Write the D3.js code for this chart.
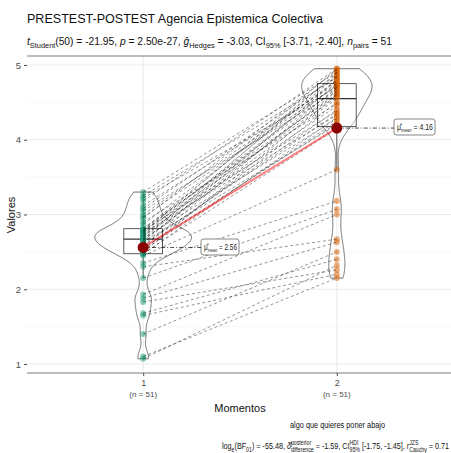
<!DOCTYPE html>
<html>
<head>
<meta charset="utf-8">
<script src="https://d3js.org/d3.v7.min.js"></script>
<style>
body{margin:0;background:#fff;}
text{font-family:"Liberation Sans",Arial,sans-serif;white-space:pre;}
</style>
</head>
<body>
<div class="chartContainer"></div>
<script>
// ---- data ----
var momentos=["1","2"];
var nLabels=["(n = 51)","(n = 51)"];
var yTicks=[1,2,3,4,5];
// paired scores, same index = same person
var pre=[1.07,1.10,1.40,1.65,1.68,1.83,1.88,1.93,2.15,2.30,2.35,2.45,
	2.47,2.48,2.50,2.52,2.53,2.55,2.57,2.58,2.60,2.62,2.63,2.65,2.66,2.67,
	2.68,2.70,2.71,2.72,2.73,2.75,2.76,2.77,2.78,2.79,2.80,2.80,
	2.82,2.87,2.90,2.95,2.97,3.00,3.05,3.08,3.12,3.18,3.22,3.25,3.30];
var post=[2.32,2.15,2.50,2.20,2.40,2.26,2.63,3.00,3.07,2.67,3.18,3.60,
	4.30,4.15,4.60,4.25,4.50,4.22,4.70,4.40,4.35,4.80,4.20,4.65,4.55,4.90,
	4.28,4.75,4.45,4.62,4.85,4.33,4.95,4.57,4.73,4.38,4.88,4.68,
	4.60,4.80,4.48,4.93,4.72,4.78,4.65,4.85,4.75,4.95,4.70,4.83,4.90];
var groupColors=["#1B9E77","#D95F02"];

var titleText="PRESTEST-POSTEST Agencia Epistemica Colectiva";
var subtitleParts=[
	{t:"t",i:1},{t:"Student",s:"sub"},{t:"(50) = -21.95, "},{t:"p",i:1},{t:" = 2.50e-27, "},
	{t:"\u011D",i:1},{t:"Hedges",s:"sub"},{t:" = -3.03, CI"},{t:"95%",s:"sub"},
	{t:" [-3.71, -2.40], "},{t:"n",i:1},{t:"pairs",s:"sub"},{t:" = 51"}];
var captionTop="algo que quieres poner abajo";
var captionParts=[
	{t:"log"},{t:"e",s:"sub"},{t:"(BF"},{t:"01",s:"sub"},{t:") = -55.48, "},
	{t:"\u03B4\u0302",i:1},{t:"posterior",s:"sup",pair:"difference"},{t:" = -1.59, CI"},
	{t:"HDI",s:"sup",pair:"95%"},{t:" [-1.75, -1.45], "},{t:"r",i:1},{t:"JZS",s:"sup",pair:"Cauchy"},{t:" = 0.71"}];

var W=451,H=453;
var svg=d3.select(".chartContainer").append("svg").attr("width",W).attr("height",H);

var x=d3.scalePoint().domain(momentos).range([27,453]).padding(0.6);
var y=d3.scaleLinear().domain([0.88,5.12]).range([373,56]);
var groups=[pre,post];

// rich text helper: lays segments one after another, optionally squeezed to a width
function rich(parent,x0,y0,parts,size,color,fitW,subK){
	var g=parent.append("g"), cx=x0, sk=subK||0.72;
	parts.forEach(function(p){
		var fs=p.s?size*sk:size, dy=p.s=="sub"?size*0.28:(p.s=="sup"?-size*0.42:0);
		var t=g.append("text").attr("x",cx).attr("y",y0+dy).attr("font-size",fs)
			.attr("fill",color).attr("font-style",p.i?"italic":null).text(p.t);
		var w=t.node().getComputedTextLength();
		if(p.pair){
			var t2=g.append("text").attr("x",cx).attr("y",y0+size*0.3).attr("font-size",fs)
				.attr("fill",color).text(p.pair);
			w=Math.max(w,t2.node().getComputedTextLength());
		}
		cx+=w;
	});
	if(fitW){
		var k=fitW/(cx-x0);
		g.attr("transform","translate("+x0+",0) scale("+k+",1) translate("+(-x0)+",0)");
		return x0+fitW;
	}
	return cx;
}

// grid
var grid=svg.append("g");
d3.range(1.5,5.01,1).forEach(function(v){
	grid.append("line").attr("x1",27).attr("x2",W).attr("y1",y(v)).attr("y2",y(v))
		.attr("stroke","#f2f2f2").attr("stroke-width",0.6);
});
grid.selectAll(".gy").data(yTicks).enter().append("line")
	.attr("x1",27).attr("x2",W).attr("y1",function(d){return y(d);}).attr("y2",function(d){return y(d);})
	.attr("stroke","#ebebeb").attr("stroke-width",1.1);
grid.selectAll(".gx").data(momentos).enter().append("line")
	.attr("x1",function(d){return x(d);}).attr("x2",function(d){return x(d);})
	.attr("y1",56).attr("y2",373).attr("stroke","#ebebeb").attr("stroke-width",1.1);

// panel top / bottom lines
svg.append("line").attr("x1",27).attr("x2",W).attr("y1",56).attr("y2",56).attr("stroke","#a6a6a6").attr("stroke-width",1.6);
svg.append("line").attr("x1",27).attr("x2",W).attr("y1",373).attr("y2",373).attr("stroke","#a6a6a6").attr("stroke-width",1.6);

// axes
var yAxis=svg.append("g").attr("transform","translate(27,0)")
	.call(d3.axisLeft(y).tickValues(yTicks).tickFormat(d3.format("d")).tickSize(3).tickPadding(3));
yAxis.select(".domain").remove();
yAxis.selectAll("line").attr("stroke","#4d4d4d");
yAxis.selectAll("text").attr("font-size",9.5).attr("fill","#4d4d4d").attr("font-family","Liberation Sans, Arial");
var xAxis=svg.append("g").attr("transform","translate(0,373)")
	.call(d3.axisBottom(x).tickSize(3).tickPadding(4));
xAxis.select(".domain").remove();
xAxis.selectAll("line").attr("stroke","#4d4d4d");
xAxis.selectAll("text").attr("font-size",9).attr("fill","#4d4d4d").attr("font-family","Liberation Sans, Arial");
svg.selectAll(".nlab").data(momentos).enter().append("text")
	.attr("x",function(d){return x(d);}).attr("y",397).attr("text-anchor","middle")
	.attr("font-size",8).attr("fill","#4d4d4d").text(function(d,i){return nLabels[i];});

// violins (gaussian kde, bw.nrd0, trimmed, equal area)
function nrd0(v){
	var s=d3.deviation(v), iqr=d3.quantile(v,0.75)-d3.quantile(v,0.25);
	return 0.9*Math.min(s,iqr/1.34)*Math.pow(v.length,-0.2);
}
var dens=groups.map(function(v){
	var s=v.slice().sort(d3.ascending), bw=nrd0(s), lo=s[0], hi=s[s.length-1];
	return d3.range(0,512).map(function(k){
		var t=lo+(hi-lo)*k/511;
		var d=d3.sum(s,function(u){var z=(t-u)/bw;return Math.exp(-0.5*z*z);})/(s.length*bw*Math.sqrt(2*Math.PI));
		return {v:t,d:d};
	});
});
var maxD=d3.max(dens,function(a){return d3.max(a,function(p){return p.d;});});
var half=0.25*x.step();
dens.forEach(function(a,i){
	var cx=x(momentos[i]);
	var area=d3.area().y(function(p){return y(p.v);})
		.x0(function(p){return cx-half*p.d/maxD;}).x1(function(p){return cx+half*p.d/maxD;});
	svg.append("path").datum(a).attr("d",area).attr("fill","#fff").attr("fill-opacity",0.2)
		.attr("stroke","#333").attr("stroke-width",0.7);
});

// boxplots
groups.forEach(function(v,i){
	var s=v.slice().sort(d3.ascending), cx=x(momentos[i]), bw=0.1*x.step();
	var q1=d3.quantile(s,0.25), q2=d3.quantile(s,0.5), q3=d3.quantile(s,0.75), r=1.5*(q3-q1);
	var lo=d3.min(s.filter(function(u){return u>=q1-r;})), hi=d3.max(s.filter(function(u){return u<=q3+r;}));
	var g=svg.append("g").attr("stroke","#333").attr("stroke-width",0.8);
	g.append("line").attr("x1",cx).attr("x2",cx).attr("y1",y(q3)).attr("y2",y(hi));
	g.append("line").attr("x1",cx).attr("x2",cx).attr("y1",y(q1)).attr("y2",y(lo));
	g.append("rect").attr("x",cx-bw).attr("width",2*bw).attr("y",y(q3)).attr("height",y(q1)-y(q3))
		.attr("fill","#fff").attr("fill-opacity",0.4);
	g.append("line").attr("x1",cx-bw).attr("x2",cx+bw).attr("y1",y(q2)).attr("y2",y(q2)).attr("stroke-width",1.3);
});

// points
groups.forEach(function(v,i){
	svg.append("g").selectAll("circle").data(v).enter().append("circle")
		.attr("cx",x(momentos[i])).attr("cy",function(d){return y(d);}).attr("r",3)
		.attr("fill",groupColors[i]).attr("fill-opacity",0.5);
});

// paired dashed lines
svg.append("g").selectAll("line").data(pre).enter().append("line")
	.attr("x1",x("1")).attr("x2",x("2"))
	.attr("y1",function(d){return y(d);}).attr("y2",function(d,i){return y(post[i]);})
	.attr("stroke","#000").attr("stroke-opacity",0.6).attr("stroke-width",0.7).attr("stroke-dasharray","3,2.5");

// centrality path and points
var means=groups.map(function(v){return d3.mean(v);});
svg.append("line").attr("x1",x("1")).attr("x2",x("2")).attr("y1",y(means[0])).attr("y2",y(means[1]))
	.attr("stroke","#ff0000").attr("stroke-opacity",0.5).attr("stroke-width",2);
var labelPos=[[201,239,38],[394,119,41]];
means.forEach(function(m,i){
	var cx=x(momentos[i]), cy=y(m), lp=labelPos[i];
	svg.append("line").attr("x1",cx).attr("x2",lp[0]).attr("y1",cy).attr("y2",cy)
		.attr("stroke","#000").attr("stroke-width",0.7).attr("stroke-dasharray","4,2,1,2");
	svg.append("circle").attr("cx",cx).attr("cy",cy).attr("r",5.5).attr("fill","#8B0000");
	var lg=svg.append("g");
	lg.append("rect").attr("x",lp[0]).attr("y",lp[1]).attr("height",16).attr("width",lp[2]).attr("rx",2.5)
		.attr("fill","#fff").attr("stroke","#333").attr("stroke-width",0.6);
	rich(lg,lp[0]+3,lp[1]+11,[{t:"\u03BC\u0302"},{t:"mean",s:"sub"},{t:" = "+d3.format(".2f")(m)}],8.5,"#222",lp[2]-5,0.6);
});

// titles
svg.append("text").attr("x",27).attr("y",23).attr("font-size",13.5).attr("fill","#111")
	.attr("textLength",296).attr("lengthAdjust","spacingAndGlyphs").text(titleText);
rich(svg,27,45,subtitleParts,10.5,"#111",365);
svg.append("text").attr("transform","translate(15,215) rotate(-90)").attr("text-anchor","middle")
	.attr("font-size",11).attr("fill","#111").text("Valores");
svg.append("text").attr("x",240).attr("y",412).attr("text-anchor","middle").attr("font-size",11)
	.attr("fill","#111").text("Momentos");
svg.append("text").attr("x",290).attr("y",428).attr("font-size",8.5)
	.attr("textLength",95).attr("lengthAdjust","spacingAndGlyphs")
	.attr("fill","#111").text(captionTop);
rich(svg,222,449,captionParts,9,"#111",227);
</script>
</body>
</html>
